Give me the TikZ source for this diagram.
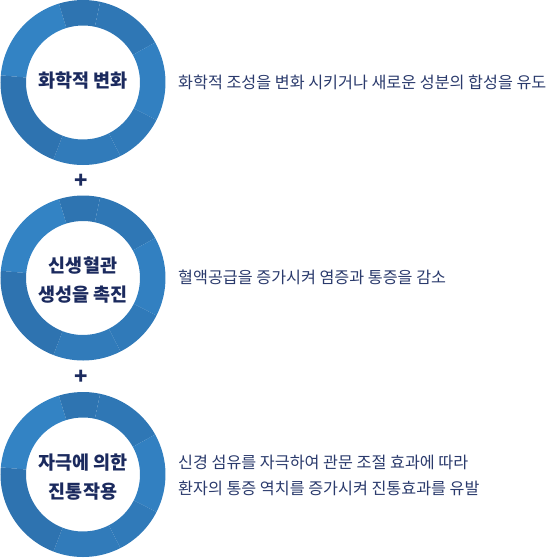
\documentclass[tikz,border=0pt]{standalone}
\usepackage{fontspec}
\setmainfont{Noto Sans CJK KR}
\definecolor{navy}{HTML}{1B2A5E}
\definecolor{desc}{HTML}{2A3A6C}
\definecolor{sA}{HTML}{3383C4}
\definecolor{sB}{HTML}{2E74B1}
\definecolor{sC}{HTML}{2F77B5}
\definecolor{sD}{HTML}{3280C1}
\definecolor{sE}{HTML}{307AB9}
\definecolor{sF}{HTML}{317BBA}
\definecolor{sG}{HTML}{2E73B0}
\tikzset{
  ctext/.style={text=navy, font=\fontsize{18.5}{29}\selectfont\bfseries, align=center, inner sep=0pt},
  dtext/.style={text=desc, font=\fontsize{16.2}{26}\selectfont, anchor=west, align=left, inner sep=0pt},
  plus/.style={text=navy, font=\fontsize{22}{22}\selectfont\bfseries, inner sep=0pt}
}
\newcommand{\ringdraw}[1]{%
  \begin{scope}[shift={#1}]
  \foreach \a/\b/\c in {175/107/sA,107/78/sB,78/29/sC,29/-27/sD,-27/-63/sE,-63/-111/sF,-111/-185/sG}{
    \fill[\c] (\a:82.5) arc[start angle=\a,end angle=\b,radius=82.5] -- (\b:57) arc[start angle=\b,end angle=\a,radius=57] -- cycle;
  }
  \end{scope}}
\begin{document}
\begin{tikzpicture}[x=1pt,y=1pt]
\useasboundingbox (0,0) rectangle (560,-558);
\ringdraw{(83,-82.5)}
\ringdraw{(83,-278)}
\ringdraw{(83,-474.5)}
\node[ctext] (c1) at (83,-81) {화학적 변화};
\node[ctext] (c2) at (83,-280) {신생혈관\\생성을 촉진};
\node[ctext] (c3) at (83,-477) {자극에 의한\\진통작용};
\node[plus] (p1) at (81,-181) {+};
\node[plus] (p2) at (81,-377) {+};
\node[dtext] (d1) at (178,-82) {화학적 조성을 변화 시키거나 새로운 성분의 합성을 유도};
\node[dtext] (d2) at (178,-277) {혈액공급을 증가시켜 염증과 통증을 감소};
\node[dtext] (d3) at (178,-475) {신경 섬유를 자극하여 관문 조절 효과에 따라\\환자의 통증 역치를 증가시켜 진통효과를 유발};
\end{tikzpicture}
\end{document}
